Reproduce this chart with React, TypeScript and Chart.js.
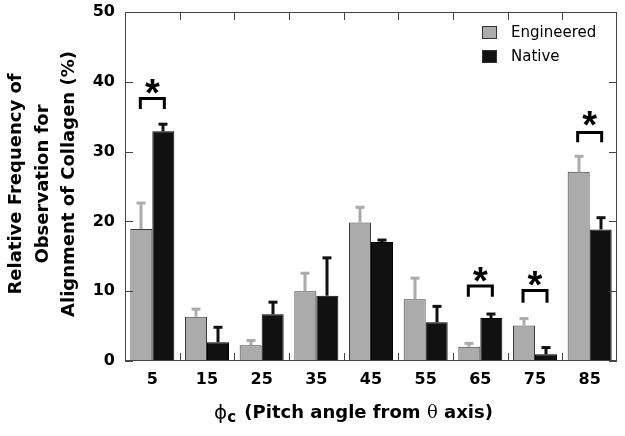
import React, { useEffect, useRef } from "react";
import { Chart, registerables } from "chart.js";

Chart.register(...registerables);

const categories = ["5", "15", "25", "35", "45", "55", "65", "75", "85"];
const engineered = [18.9, 6.35, 2.25, 10.0, 19.85, 8.85, 2.05, 5.1, 27.1];
const engineeredErr = [3.8, 1.15, 0.75, 2.65, 2.25, 3.1, 0.55, 1.05, 2.3];
const native = [32.9, 2.7, 6.7, 9.35, 17.05, 5.55, 6.15, 0.95, 18.85];
const nativeErr = [1.1, 2.2, 1.8, 5.5, 0.35, 2.35, 0.65, 1.05, 1.75];

// significance brackets
const bracketIndex = [0, 6, 7, 8];
const bracketTop = [37.6, 10.75, 10.1, 32.75];
const bracketLeg = [36.1, 9.2, 8.35, 31.35];
const starValue = [39.3, 12.45, 11.75, 34.7];

const yTicks = [0, 10, 20, 30, 40, 50];
const yTitleLines = ["Relative Frequency of", "Observation for", "Alignment of Collagen (%)"];
const seriesNames = ["Engineered", "Native"];

const GREY = "#ababab";
const BLACK = "#111111";
const TXT_FONT = "'DejaVu Sans', 'Liberation Sans', Arial, sans-serif";

const decor = {
  id: "decor",
  afterDatasetsDraw(chart: any) {
    const { ctx, chartArea: a, scales } = chart;
    const x = scales.x;
    const y = scales.y;
    ctx.save();
    // error bars
    const errs = [engineeredErr, nativeErr];
    const errColors = [GREY, BLACK];
    chart.data.datasets.forEach((ds: any, di: number) => {
      const meta = chart.getDatasetMeta(di);
      meta.data.forEach((bar: any, i: number) => {
        const top = y.getPixelForValue(ds.data[i] + errs[di][i]);
        const base = bar.y;
        ctx.fillStyle = errColors[di];
        ctx.fillRect(Math.round(bar.x) - 1.5, top, 3, base - top);
        ctx.fillRect(Math.round(bar.x) - 4.5, top - 1, 9, 3);
      });
    });

    // frame
    ctx.strokeStyle = "#444";
    ctx.lineWidth = 1;
    ctx.strokeRect(a.left + 0.5, a.top + 0.5, a.right - a.left - 1, a.bottom - a.top - 1);
    // inward ticks
    ctx.beginPath();
    yTicks.forEach((v) => {
      const py = Math.round(y.getPixelForValue(v)) + 0.5;
      ctx.moveTo(a.left, py);
      ctx.lineTo(a.left + 8, py);
      ctx.moveTo(a.right, py);
      ctx.lineTo(a.right - 8, py);
    });
    for (let i = 1; i < categories.length; i++) {
      const px = Math.round((x.getPixelForValue(i - 1) + x.getPixelForValue(i)) / 2) + 0.5;
      ctx.moveTo(px, a.bottom);
      ctx.lineTo(px, a.bottom - 8);
      ctx.moveTo(px, a.top);
      ctx.lineTo(px, a.top + 8);
    }
    ctx.stroke();

    // brackets
    const m0 = chart.getDatasetMeta(0);
    const m1 = chart.getDatasetMeta(1);
    ctx.strokeStyle = "#000";
    ctx.lineWidth = 3;
    ctx.lineJoin = "miter";
    ctx.lineCap = "butt";
    bracketIndex.forEach((ci, k) => {
      const l = m0.data[ci].x - 1;
      const r = m1.data[ci].x + 1;
      const yt = y.getPixelForValue(bracketTop[k]);
      const yl = y.getPixelForValue(bracketLeg[k]);
      ctx.beginPath();
      ctx.moveTo(l, yl);
      ctx.lineTo(l, yt);
      ctx.lineTo(r, yt);
      ctx.lineTo(r, yl);
      ctx.stroke();
      ctx.font = "bold 38px 'Liberation Sans', Arial, sans-serif";
      ctx.fillStyle = "#000";
      ctx.textAlign = "center";
      ctx.textBaseline = "alphabetic";
      const m = ctx.measureText("*");
      const cy = y.getPixelForValue(starValue[k]);
      const off = (m.actualBoundingBoxAscent - m.actualBoundingBoxDescent) / 2;
      ctx.fillText("*", (l + r) / 2, cy + off);
    });

    // legend
    const lx = 482;
    const rows = [26, 50];
    chart.data.datasets.forEach((ds: any, di: number) => {
      ctx.fillStyle = ds.backgroundColor;
      ctx.fillRect(lx, rows[di], 15, 13);
      ctx.strokeStyle = "#333";
      ctx.lineWidth = 1;
      ctx.strokeRect(lx + 0.5, rows[di] + 0.5, 14, 12);
      ctx.fillStyle = "#000";
      ctx.font = "15px " + TXT_FONT;
      ctx.textAlign = "left";
      ctx.textBaseline = "alphabetic";
      ctx.fillText(ds.label, 511, rows[di] + 11);
    });

    // y title
    ctx.save();
    ctx.translate(0, 184);
    ctx.rotate(-Math.PI / 2);
    ctx.font = "bold 18px " + TXT_FONT;
    ctx.fillStyle = "#000";
    ctx.textAlign = "center";
    ctx.textBaseline = "alphabetic";
    const bases = [21, 47.5, 74];
    yTitleLines.forEach((t, i) => ctx.fillText(t, 0, bases[i]));
    ctx.restore();

    // x title
    let cx = 214;
    const base = 418;
    ctx.textAlign = "left";
    ctx.textBaseline = "alphabetic";
    ctx.font = "20px 'DejaVu Sans', sans-serif";
    ctx.fillText("\u03D5", cx, base + 1);
    cx += ctx.measureText("\u03D5").width;
    ctx.font = "bold 15px " + TXT_FONT;
    ctx.fillText("c", cx, base + 4);
    cx += ctx.measureText("c").width + 2;
    ctx.font = "bold 18px " + TXT_FONT;
    const p1 = " (Pitch angle from ";
    ctx.fillText(p1, cx, base);
    cx += ctx.measureText(p1).width;
    ctx.font = "18px 'DejaVu Serif', serif";
    ctx.fillText("\u03B8", cx, base);
    cx += ctx.measureText("\u03B8").width;
    ctx.font = "bold 18px " + TXT_FONT;
    ctx.fillText(" axis)", cx, base);

    ctx.restore();
  },
};

export default function App() {
  const ref = useRef<HTMLCanvasElement>(null);
  useEffect(() => {
    if (!ref.current) return;
    const chart = new Chart(ref.current, {
      type: "bar",
      data: {
        labels: categories,
        datasets: [
          {
            label: seriesNames[0],
            data: engineered,
            backgroundColor: GREY,
            borderColor: "#3a3a3a",
            borderWidth: 1,
            categoryPercentage: 0.805,
            barPercentage: 1.0,
          },
          {
            label: seriesNames[1],
            data: native,
            backgroundColor: BLACK,
            borderColor: "#000",
            borderWidth: 1,
            categoryPercentage: 0.805,
            barPercentage: 1.0,
          },
        ],
      },
      options: {
        responsive: false,
        animation: false,
        devicePixelRatio: 1,
        layout: { padding: { top: 12, right: 8, left: 0, bottom: 0 } },
        plugins: { legend: { display: false }, tooltip: { enabled: false } },
        scales: {
          x: {
            grid: { display: false, drawTicks: false },
            border: { display: false },
            ticks: {
              color: "#000",
              font: { family: TXT_FONT, size: 16, weight: "bold" },
              padding: 9,
              maxRotation: 0,
            },
            afterFit: (s: any) => {
              s.height = 75;
              s.paddingLeft = 0;
              s.paddingRight = 0;
            },
          },
          y: {
            min: 0,
            max: 50,
            grid: { display: false, drawTicks: false },
            border: { display: false },
            ticks: {
              stepSize: 10,
              color: "#000",
              font: { family: TXT_FONT, size: 16, weight: "bold" },
              padding: 10,
            },
            afterFit: (s: any) => {
              s.width = 125;
              s.paddingTop = 0;
              s.paddingBottom = 0;
            },
          },
        },
      },
      plugins: [decor],
    });
    return () => chart.destroy();
  }, []);
  return (
    <div style={{ position: "fixed", left: 0, top: 0, width: 625, height: 436, background: "#fff" }}>
      <canvas ref={ref} width={625} height={436} />
    </div>
  );
}
